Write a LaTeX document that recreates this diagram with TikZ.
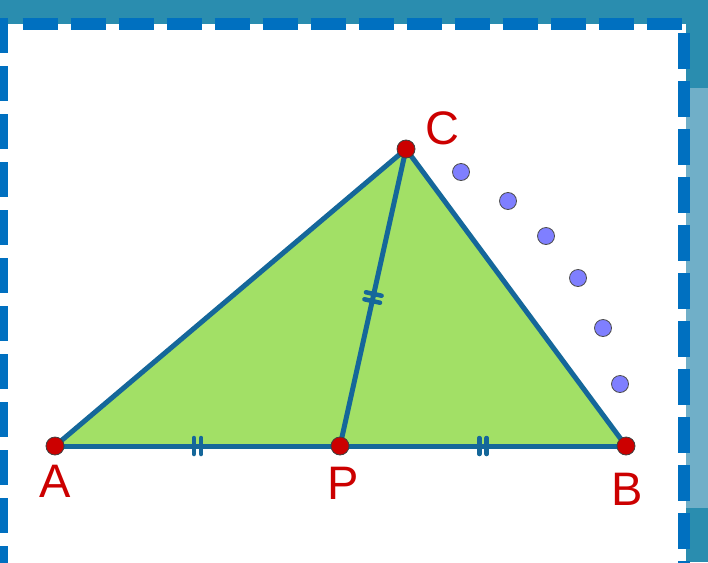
\documentclass[tikz,border=0pt]{standalone}
\usepackage{fontspec}
\setmainfont{Liberation Sans}
\usepackage{xcolor}
\usetikzlibrary{positioning}
\definecolor{FrameTeal}{HTML}{2A8DAF}
\definecolor{StripBlue}{HTML}{70AFC8}
\definecolor{DashBlue}{HTML}{0070C0}
\definecolor{EdgeBlue}{HTML}{15679A}
\definecolor{FaceGreen}{HTML}{A2E066}
\definecolor{PtRed}{HTML}{CC0000}
\definecolor{PtViolet}{HTML}{7F7FFF}

\begin{document}
\begin{tikzpicture}[x=1pt, y=-1pt,
    frame/.style={draw=DashBlue, line width=12pt},
    edge/.style={draw=EdgeBlue, line width=5pt, line join=round},
    redpt/.style={circle, fill=PtRed, draw=black!75, line width=0.8pt,
      minimum size=18pt, inner sep=0pt},
    violetpt/.style={circle, fill=PtViolet, draw=black!70, line width=0.8pt,
      minimum size=17pt, inner sep=0pt},
    lbl/.style={text=PtRed, font=\fontsize{47}{56}\selectfont, inner sep=0pt},
    dtick/.pic={\draw[edge, line width=4.5pt, line cap=round]
      (-3.6,-8) -- (-3.6,8) (3.6,-8) -- (3.6,8);}
  ]
    \useasboundingbox (0,0) rectangle (708,562);
    \clip (0,0) rectangle (708,562);

    % sheet and dashed frame
    \fill[FrameTeal] (0,0) rectangle (708,562);
    \fill[StripBlue] (686,88) rectangle (708,508);
    \fill[white] (0,24) rectangle (686,562);
    \draw[frame, dash pattern=on 35pt off 13pt] (2,18) -- (2,570);
    \draw[frame, dash pattern=on 35.5pt off 12.5pt] (22.5,24) -- (690,24);
    \draw[frame, dash pattern=on 36pt off 12pt] (684,33) -- (684,570);

    % triangle
    \coordinate (A) at (55,446);
    \coordinate (P) at (340,446);
    \coordinate (B) at (626,446);
    \coordinate (C) at (406,149);

    \fill[FaceGreen] (A) -- (B) -- (C) -- cycle;
    \draw[edge] (A) -- (C) -- (B);
    \draw[edge] (A) -- (P) pic[midway, sloped] {dtick};
    \draw[edge] (P) -- (B) pic[midway, sloped] {dtick};
    \draw[edge] (P) -- (C) pic[midway, sloped] {dtick};

    % locus of C
    \foreach \i/\x/\y in {1/461/172, 2/508/201, 3/546/236, 4/578/278, 5/603/328, 6/620/384}
      \node[violetpt] (d\i) at (\x,\y) {};

    \node[redpt] (ptA) at (A) {};
    \node[redpt] (ptP) at (P) {};
    \node[redpt] (ptB) at (B) {};
    \node[redpt] (ptC) at (C) {};

    \node[lbl] (labA) at (55,481) {A};
    \node[lbl] (labP) at (343,483) {P};
    \node[lbl] (labB) at (627,489) {B};
    \node[lbl] (labC) at (442,128) {C};
  \end{tikzpicture}
\end{document}
